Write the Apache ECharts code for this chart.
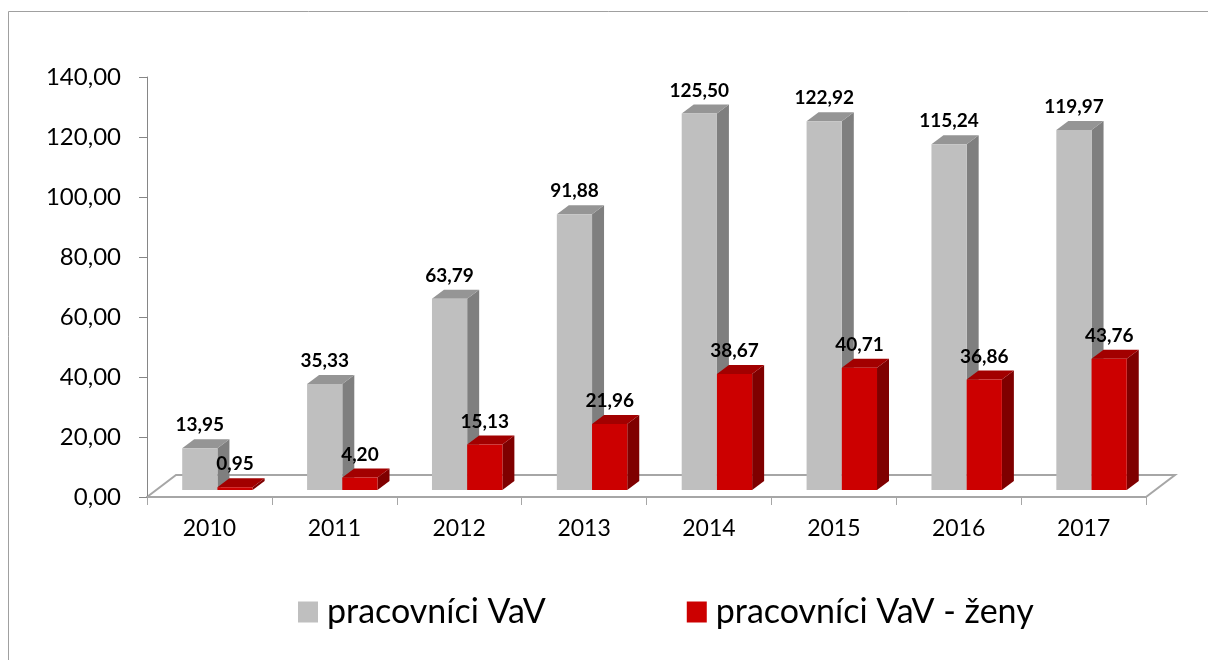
<!DOCTYPE html>
<html>
<head>
<meta charset="utf-8">
<script src="https://cdn.jsdelivr.net/npm/echarts@6/dist/echarts.min.js"></script>
<style>
  html, body { margin: 0; padding: 0; background: #fff; }
  #main { width: 1208px; height: 660px; }
</style>
</head>
<body>
<div id="main"></div>
<script>
// data
var years = ['2010', '2011', '2012', '2013', '2014', '2015', '2016', '2017'];
var vavAll = [13.95, 35.33, 63.79, 91.88, 125.50, 122.92, 115.24, 119.97];
var vavWomen = [0.95, 4.20, 15.13, 21.96, 38.67, 40.71, 36.86, 43.76];
var seriesNames = ['pracovníci VaV', 'pracovníci VaV - ženy'];
var yTicks = { min: 0, max: 140, step: 20 };

var FONT = 'Lato, "Open Sans", sans-serif';
var colors = [
    { front: '#BFBFBF', top: '#959595', side: '#7F7F7F' },
    { front: '#CC0000', top: '#A20000', side: '#7F0000' }
];

function fmt(v) {
    return v.toFixed(2).replace('.', ',');
}

var chart = echarts.init(document.getElementById('main'));

// 3d-ish bar, gray on the left half of the slot, red on the right
function bar3d(si) {
    return function (params, api) {
        var ci = api.value(0);
        var val = api.value(1);
        var base = api.coord([ci, 0]);
        var top = api.coord([ci, val]);
        var band = api.size([1, 0])[0];
        var w = band * 0.282;
        var shift = band * 0.064;
        var lift = 7;
        var dx = band * 0.096, dy = -9;
        var cx = base[0] + shift;
        var x0 = si === 0 ? cx - w : cx;
        var yb = base[1] - lift;
        var yt = top[1] - lift;
        var c = colors[si];
        return {
            type: 'group',
            children: [
                {
                    type: 'polygon',
                    shape: { points: [[x0 + w, yt], [x0 + w + dx, yt + dy], [x0 + w + dx, yb + dy], [x0 + w, yb]] },
                    style: { fill: c.side }
                },
                {
                    type: 'polygon',
                    shape: { points: [[x0, yt], [x0 + w, yt], [x0 + w + dx, yt + dy], [x0 + dx, yt + dy]] },
                    style: { fill: c.top }
                },
                {
                    type: 'rect',
                    shape: { x: x0, y: yt, width: w, height: yb - yt },
                    style: { fill: c.front }
                },
                {
                    type: 'text',
                    x: x0 + w / 2,
                    y: yt + dy - 14,
                    style: {
                        text: fmt(val),
                        align: 'center',
                        verticalAlign: 'middle',
                        fontFamily: FONT,
                        fontWeight: 'bold',
                        fontSize: 19,
                        fill: '#000'
                    }
                }
            ]
        };
    };
}

var option = {
    animation: false,
    backgroundColor: '#fff',
    grid: {
        left: 147,
        right: 62,
        top: 77,
        bottom: 163
    },
    legend: {
        bottom: 26,
        left: 293,
        icon: 'rect',
        itemWidth: 20,
        itemHeight: 21,
        itemGap: 141,
        textStyle: {
            fontFamily: FONT,
            fontSize: 34,
            color: '#000',
            padding: [0, 0, 0, 4]
        },
        data: seriesNames
    },
    xAxis: {
        type: 'category',
        data: years,
        boundaryGap: true,
        axisLine: { lineStyle: { color: '#A6A6A6', width: 2 } },
        axisTick: { show: true, length: 8, lineStyle: { color: '#A6A6A6', width: 1 } },
        axisLabel: {
            margin: 20,
            fontFamily: FONT,
            fontSize: 23,
            color: '#000'
        },
        splitLine: { show: false }
    },
    yAxis: {
        type: 'value',
        min: yTicks.min,
        max: yTicks.max,
        interval: yTicks.step,
        axisLine: { show: true, lineStyle: { color: '#868686', width: 1 } },
        axisTick: { show: true, length: 8, lineStyle: { color: '#868686' } },
        axisLabel: {
            margin: 26,
            fontFamily: FONT,
            fontSize: 24,
            color: '#000',
            formatter: function (v) { return fmt(v); }
        },
        splitLine: { show: false }
    },
    series: [
        {
            name: seriesNames[0],
            type: 'custom',
            itemStyle: { color: colors[0].front },
            renderItem: bar3d(0),
            encode: { x: 0, y: 1 },
            data: vavAll.map(function (v, i) { return [i, v]; })
        },
        {
            name: seriesNames[1],
            type: 'custom',
            itemStyle: { color: colors[1].front },
            renderItem: bar3d(1),
            encode: { x: 0, y: 1 },
            data: vavWomen.map(function (v, i) { return [i, v]; })
        }
    ]
};
chart.setOption(option);

// floor outline + outer frame, placed from the axes
var c0 = chart.convertToPixel({ gridIndex: 0 }, [0, 0]);
var c1 = chart.convertToPixel({ gridIndex: 0 }, [1, 0]);
var half = (c1[0] - c0[0]) / 2;
var cn = chart.convertToPixel({ gridIndex: 0 }, [years.length - 1, 0]);
var p0 = [c0[0] - half, c0[1]];
var p1 = [cn[0] + half, cn[1]];
var fdx = 29, fdy = -22;
chart.setOption({
    graphic: [
        {
            type: 'polyline',
            z: -1,
            shape: { points: [[p0[0], p0[1]], [p0[0] + fdx, p0[1] + fdy], [p1[0] + fdx, p1[1] + fdy], [p1[0], p1[1]]] },
            style: { stroke: '#A6A6A6', lineWidth: 2, fill: null }
        },
        {
            type: 'rect',
            shape: { x: 8.5, y: 11.5, width: 1300, height: 700 },
            style: { stroke: '#A0A0A0', lineWidth: 1, fill: null }
        }
    ]
});
</script>
</body>
</html>
